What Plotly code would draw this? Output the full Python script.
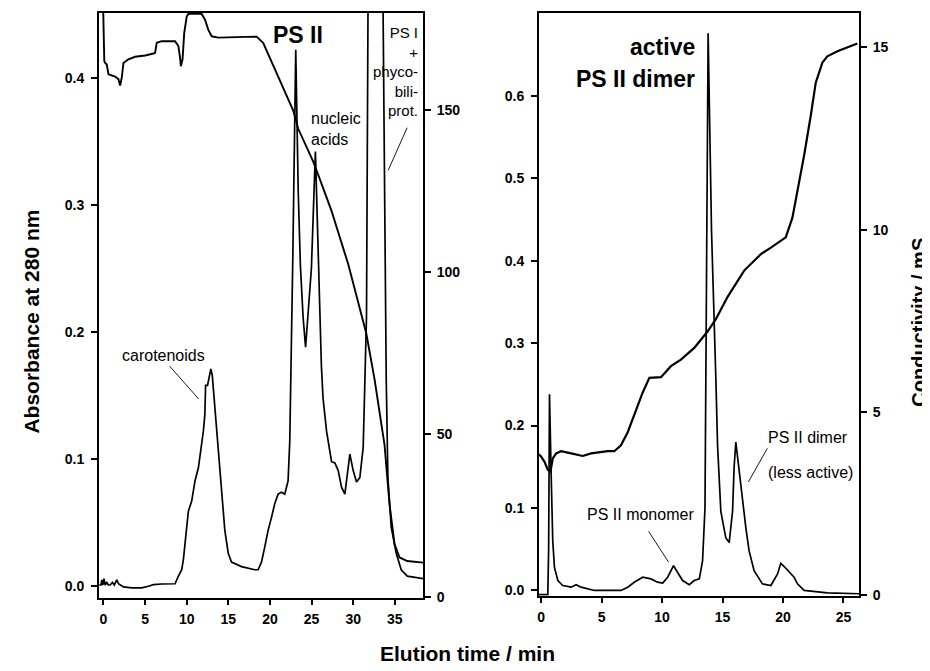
import plotly.graph_objects as go

# ---------------- data ----------------
# Left panel: absorbance at 280 nm
left_abs_time = [-0.5, -0.3, -0.2, -0.08, 0.07, 0.2, 0.4, 0.6, 0.8, 1.08, 1.3, 1.6, 1.8, 2.4, 3.4, 4.6,
                 5.4, 6.0, 7.0, 8.4, 8.6, 9.0, 9.4, 9.6, 10.0, 10.2, 10.6, 11.0, 11.4, 11.8, 12.0, 12.18,
                 12.27, 12.5, 12.66, 12.9, 13.07, 13.38, 13.79, 14.18, 14.58, 14.99, 15.38, 16.58, 18.18,
                 18.58, 18.98, 19.38, 19.78, 20.18, 20.58, 20.98, 21.38, 21.78, 22.18, 22.38, 22.58, 22.75,
                 23.1, 23.4, 23.66, 23.98, 24.28, 24.58, 24.98, 25.46, 25.86, 25.98, 26.18, 26.38, 26.8,
                 27.4, 27.8, 28.2, 28.6, 29.0, 29.4, 29.6, 30.0, 30.4, 30.8, 31.2, 31.4, 31.6, 31.77, 31.9,
                 33.4, 33.6, 33.77, 33.97, 34.17, 34.57, 35.17, 35.77, 36.5, 38.4]
left_abs = [0.001, 0.001, 0.005, 0.001, 0.006, 0.001, 0.003, 0.001, 0.001, 0.003, 0.001, 0.005, 0.002,
            -0.0005, -0.0013, -0.0013, 0.0, 0.0013, 0.0018, 0.002, 0.002, 0.008, 0.013, 0.021, 0.044,
            0.059, 0.067, 0.083, 0.093, 0.111, 0.122, 0.135, 0.158, 0.158, 0.164, 0.171, 0.166, 0.140,
            0.109, 0.075, 0.044, 0.026, 0.019, 0.0155, 0.013, 0.013, 0.019, 0.031, 0.044, 0.054, 0.065,
            0.0725, 0.074, 0.0725, 0.083, 0.114, 0.212, 0.26, 0.422, 0.31, 0.252, 0.212, 0.188, 0.212,
            0.25, 0.342, 0.25, 0.212, 0.1735, 0.148, 0.122, 0.098, 0.097, 0.091, 0.078, 0.0725, 0.091,
            0.104, 0.091, 0.082, 0.0855, 0.109, 0.16, 0.212, 0.44, 0.6, 0.6, 0.44, 0.267, 0.163, 0.0855,
            0.0466, 0.026, 0.013, 0.008, 0.006]

# Left panel: conductivity (mS)
left_cond_time = [-0.56, -0.05, 0.1, 0.2, 0.4, 0.6, 1.4, 1.8, 2.0, 2.2, 2.4, 3.0, 3.8, 5.0, 6.0, 6.2, 6.4,
                  7.0, 8.6, 9.0, 9.2, 9.3, 9.5, 9.7, 10.0, 10.2, 11.8, 12.2, 12.6, 13.0, 13.8, 15.8, 18.4,
                  19.2, 20.6, 22.8, 23.4, 25.2, 25.8, 27.4, 29.4, 31.57, 32.57, 33.77, 34.37, 34.97, 35.57,
                  36.5, 38.4]
left_cond = [183, 183, 165.1, 164.5, 164.0, 161.0, 160.3, 159.5, 157.5, 160.0, 164.5, 165.6, 166.4, 166.8,
             167.4, 167.6, 170.7, 171.2, 171.2, 169.7, 166.1, 163.5, 165.6, 173.7, 178.8, 179.6, 179.6,
             177.8, 174.7, 172.7, 172.3, 172.4, 172.6, 170.6, 162.5, 149.8, 144.2, 134.1, 130.0, 118.9,
             102.5, 81.2, 67.0, 46.7, 28.4, 16.2, 12.1, 11.0, 10.5]

# Right panel: absorbance at 280 nm
right_abs_time = [-0.19, 0.55, 0.62, 0.69, 0.83, 0.88, 0.96, 1.1, 1.38, 1.79, 2.48, 2.89, 3.3, 4.4, 6.6,
                  7.16, 7.7, 8.4, 9.08, 9.63, 10.05, 10.46, 10.95, 11.28, 11.7, 12.25, 12.66, 13.08, 13.35,
                  13.55, 13.63, 13.81, 14.09, 14.31, 14.45, 14.59, 14.86, 15.27, 15.55, 15.83, 15.96, 16.1,
                  16.38, 16.65, 16.93, 17.2, 17.61, 18.3, 19.0, 19.55, 19.82, 20.1, 20.65, 20.92, 21.2,
                  21.75, 23.67, 26.3]
right_abs = [-0.005, -0.005, 0.05, 0.238, 0.14, 0.10, 0.06, 0.028, 0.012, 0.006, 0.004, 0.007, 0.004, 0.0,
             0.0, 0.004, 0.010, 0.016, 0.014, 0.010, 0.009, 0.016, 0.030, 0.022, 0.012, 0.007, 0.012, 0.014,
             0.036, 0.10, 0.33, 0.676, 0.436, 0.336, 0.256, 0.176, 0.096, 0.064, 0.058, 0.096, 0.15, 0.18,
             0.144, 0.112, 0.076, 0.048, 0.024, 0.008, 0.006, 0.020, 0.033, 0.029, 0.021, 0.016, 0.008,
             0.0, -0.003, -0.004]

# Right panel: conductivity (mS)
right_cond_time = [-0.19, 0.0, 0.28, 0.55, 0.77, 0.96, 1.24, 1.65, 2.48, 3.44, 4.13, 5.51, 6.05, 6.6, 7.16,
                   7.7, 8.4, 8.95, 9.91, 10.73, 11.56, 12.66, 13.76, 14.45, 15.42, 16.79, 18.17, 19.0, 20.23,
                   20.78, 21.2, 21.75, 22.3, 22.71, 23.26, 23.67, 24.5, 25.33, 26.15]
right_cond = [3.85, 3.78, 3.64, 3.42, 3.37, 3.73, 3.87, 3.93, 3.87, 3.80, 3.87, 3.93, 3.93, 4.09, 4.45,
              4.91, 5.54, 5.94, 5.96, 6.26, 6.44, 6.76, 7.21, 7.55, 8.16, 8.88, 9.33, 9.51, 9.79, 10.33,
              11.05, 12.04, 13.13, 14.03, 14.58, 14.75, 14.89, 15.0, 15.1]

left_x_ticks = [0, 5, 10, 15, 20, 25, 30, 35]
left_abs_ticks = [0.0, 0.1, 0.2, 0.3, 0.4]
left_cond_ticks = [0, 50, 100, 150]
right_x_ticks = [0, 5, 10, 15, 20, 25]
right_abs_ticks = [0.0, 0.1, 0.2, 0.3, 0.4, 0.5, 0.6]
right_cond_ticks = [0, 5, 10, 15]

# ---------------- layout helpers ----------------
# The page places the figure 8 px from the top-left corner, so the figure is
# drawn 8 px smaller and every position is given in window pixels minus 8.
OFF = 8
W, H = 930 - OFF, 671 - OFF
FONT = "Liberation Sans, Arial, sans-serif"


def px(x):
    return (x - OFF) / W


def py(y):
    return 1 - (y - OFF) / H


LINE = dict(color="black", width=1.7)

fig = go.Figure()
fig.add_trace(go.Scatter(x=left_abs_time, y=left_abs, mode="lines", line=LINE, xaxis="x", yaxis="y"))
fig.add_trace(go.Scatter(x=left_cond_time, y=left_cond, mode="lines", line=dict(color="black", width=1.9),
                         xaxis="x", yaxis="y2"))
fig.add_trace(go.Scatter(x=right_abs_time, y=right_abs, mode="lines", line=LINE, xaxis="x2", yaxis="y3"))
fig.add_trace(go.Scatter(x=right_cond_time, y=right_cond, mode="lines", line=dict(color="black", width=2.2),
                         xaxis="x2", yaxis="y4"))

tickfont = dict(family=FONT, size=14, color="black", weight="bold")
common = dict(showgrid=False, zeroline=False, showline=True, linecolor="black", linewidth=1.5,
              ticks="outside", ticklen=6, tickwidth=1.5, tickcolor="black", tickfont=tickfont)

L_dom_x = [px(97), px(422)]
L_dom_y = [py(604), py(13)]
R_dom_x = [px(538), px(859)]
R_dom_y = [py(602), py(13)]

fig.update_layout(
    width=W, height=H, margin=dict(l=0, r=0, t=0, b=0),
    paper_bgcolor="white", plot_bgcolor="white", showlegend=False,
    font=dict(family=FONT, color="black"),
    xaxis=dict(domain=L_dom_x, range=[-0.56, 38.4], tickvals=left_x_ticks, anchor="y", mirror=True,
               ticklabelstandoff=2, **common),
    yaxis=dict(domain=L_dom_y, range=[-0.009, 0.451], tickvals=left_abs_ticks, tickformat=".1f",
               anchor="x", ticklabelstandoff=4, **common),
    yaxis2=dict(range=[-0.3, 179.9], tickvals=left_cond_ticks, overlaying="y", side="right", anchor="x",
                ticklabelstandoff=3, **common),
    xaxis2=dict(domain=R_dom_x, range=[-0.19, 26.3], tickvals=right_x_ticks, anchor="y3", mirror=True,
                ticklabelstandoff=2, **common),
    yaxis3=dict(domain=R_dom_y, range=[-0.0064, 0.7005], tickvals=right_abs_ticks, tickformat=".1f",
                anchor="x2", ticklabelstandoff=4, **common),
    yaxis4=dict(range=[-0.03, 15.94], tickvals=right_cond_ticks, overlaying="y3", side="right", anchor="x2",
                ticklabelstandoff=3, **common),
)


def txt(text, x, y, size=16, bold=False, xanchor="center", align="center", angle=0):
    fig.add_annotation(text=text, x=px(x), y=py(y), xref="paper", yref="paper", showarrow=False,
                       xanchor=xanchor, yanchor="middle", align=align, textangle=angle,
                       font=dict(family=FONT, size=size, color="black", weight="bold" if bold else "normal"))


def pointer(x0, y0, x1, y1):
    fig.add_shape(type="line", xref="paper", yref="paper", x0=px(x0), y0=py(y0), x1=px(x1), y1=py(y1),
                  line=dict(color="black", width=0.9))


# axis titles
txt("Absorbance at 280 nm", 30, 325, size=21, bold=True, angle=-90)
txt("Conductivity / mS", 919, 326, size=20, bold=True, angle=-90)
txt("Elution time / min", 466, 660, size=21, bold=True)

# left panel labels
txt("PS II", 297, 35, size=23, bold=True)
txt("PS I<br>+<br>phyco-<br>bili-<br>prot.", 419, 72, size=15, xanchor="right", align="right")
pointer(406, 129, 387, 172)
txt("nucleic<br>acids", 308, 130, size=16, xanchor="left", align="left")
txt("carotenoids", 118, 359, size=16, xanchor="left", align="left")
pointer(168, 370, 197, 403)

# right panel labels
txt("active", 696, 47, size=23, bold=True, xanchor="right", align="right")
txt("PS II dimer", 696, 80, size=23, bold=True, xanchor="right", align="right")
txt("PS II monomer", 584, 520, size=16, xanchor="left", align="left")
pointer(648, 537, 668, 568)
txt("PS II dimer", 766, 442, size=16, xanchor="left", align="left")
txt("(less active)", 766, 477, size=16, xanchor="left", align="left")
pointer(767, 453, 748, 487)

fig.write_html("out.html")
